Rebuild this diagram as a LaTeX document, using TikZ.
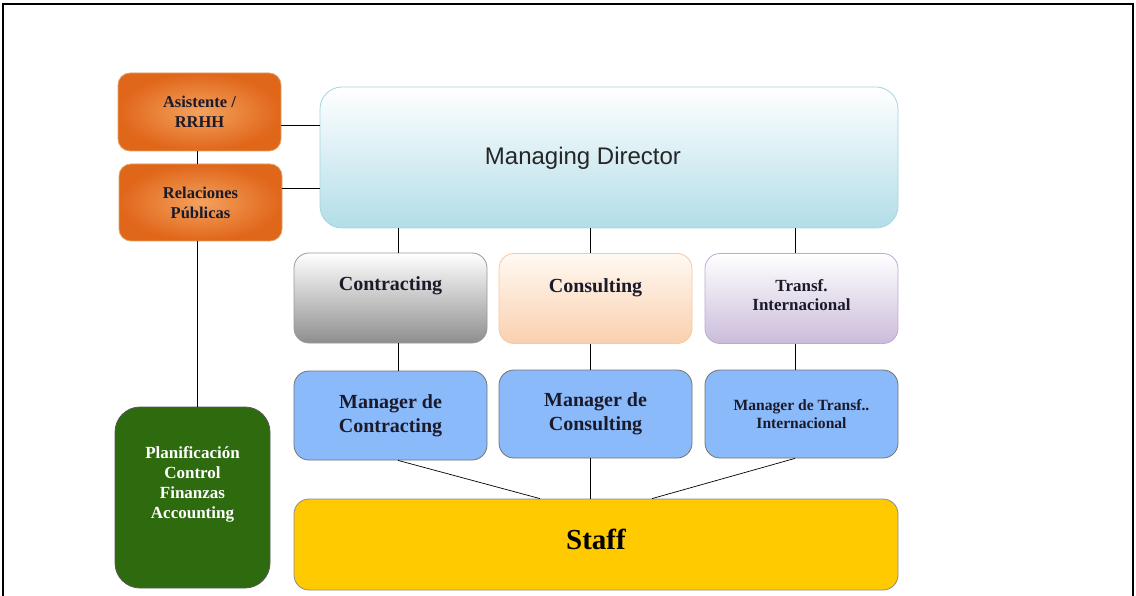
\documentclass[tikz,border=0pt]{standalone}
\usepackage{fontspec}
\setmainfont{Liberation Serif}
\newfontfamily\arialf{Liberation Sans}
\begin{document}
\begin{tikzpicture}[x=1pt,y=-1pt,
  base/.style={draw, line width=0.8pt, inner sep=0pt, align=center, font=\bfseries},
  orangebox/.style={base, rectangle, rounded corners=12pt, draw=orange!80!black!60, inner color=oInner, outer color=oOuter},
  unitbox/.style={base, rounded corners=15pt, minimum width=193pt, minimum height=90pt},
  mgrbox/.style={base, rounded corners=15pt, fill=mgrBlue, draw=gray!90!black, minimum width=193pt, minimum height=88pt},
  txt/.style={align=center, font=\bfseries, inner sep=0pt},
  link/.style={draw=black, line width=0.9pt}]
\definecolor{oInner}{HTML}{F4A25E}
\definecolor{oOuter}{HTML}{E0661A}
\definecolor{mdBot}{HTML}{B2DDE8}
\definecolor{mdBorder}{HTML}{A5D5E0}
\definecolor{grBot}{HTML}{8E8E8E}
\definecolor{csTop}{HTML}{FFF9F3}
\definecolor{csBot}{HTML}{FAD0AE}
\definecolor{csBorder}{HTML}{F8C8A0}
\definecolor{trBot}{HTML}{CBBCDA}
\definecolor{trBorder}{HTML}{BBAAD5}
\definecolor{mgrBlue}{HTML}{8BBAFA}
\definecolor{staffY}{HTML}{FFCA00}
\definecolor{greenB}{HTML}{2E6B0E}
\definecolor{txtDark}{HTML}{1A1A2A}
\useasboundingbox (0,0) rectangle (1136,596);
\fill[white] (0,0) rectangle (1136,596);
% frame
\draw[line width=2pt] (3,596) -- (3,4) -- (1133,4) -- (1133,596);

% left column
\node[orangebox, minimum width=163pt, minimum height=78pt, font=\bfseries\fontsize{16.5}{20}\selectfont, text=txtDark] (asis) at (199.5,112) {Asistente /\\RRHH};
\node[orangebox, minimum width=163pt, minimum height=77pt, font=\bfseries\fontsize{16.5}{20}\selectfont, text=txtDark] (rp) at (200.5,202.5) {Relaciones\\Públicas};
\node[base, rounded corners=25pt, fill=greenB, draw=gray!70!black, minimum width=155pt, minimum height=181pt] (plan) at (192.5,497.5) {};
\node[txt, text=white, font=\bfseries\fontsize{17}{20}\selectfont] (plant) at (192.5,484.5) {Planificación\\Control\\Finanzas\\Accounting};

% managing director
\node[base, rounded corners=22pt, top color=white, bottom color=mdBot, draw=mdBorder, minimum width=578pt, minimum height=141pt] (md) at (609,157.5) {};
\node[txt, font=\arialf\mdseries\fontsize{24}{28}\selectfont, text=black!85] (mdt) at (583,158) {Managing Director};

% units
\node[unitbox, top color=white, bottom color=grBot, draw=gray!80] (contr) at (390.5,298) {};
\node[txt, font=\bfseries\fontsize{20}{22}\selectfont, text=txtDark] (contrt) at (390.5,286) {Contracting};
\node[unitbox, top color=csTop, bottom color=csBot, draw=csBorder] (cons) at (595.5,298.5) {};
\node[txt, font=\bfseries\fontsize{20}{22}\selectfont, text=txtDark] (const) at (595.5,288) {Consulting};
\node[unitbox, top color=white, bottom color=trBot, draw=trBorder] (trans) at (801.5,298.5) {};
\node[txt, font=\bfseries\fontsize{17}{19}\selectfont, text=txtDark] (transt) at (801.5,295) {Transf.\\Internacional};

% managers
\node[mgrbox, minimum height=89pt, font=\bfseries\fontsize{20}{24}\selectfont, text=txtDark] (mcontr) at (390.5,415.5) {Manager de\\Contracting};
\node[mgrbox, font=\bfseries\fontsize{20}{24}\selectfont, text=txtDark] (mcons) at (595.5,414) {Manager de\\Consulting};
\node[mgrbox, font=\bfseries\fontsize{15.6}{18}\selectfont, text=txtDark] (mtrans) at (801.5,414) {Manager de Transf..\\Internacional};

% staff
\node[base, rounded corners=15pt, fill=staffY, draw=gray!90, minimum width=604pt, minimum height=91pt] (staff) at (596,544.5) {};
\node[txt, font=\bfseries\fontsize{29}{32}\selectfont] (stafft) at (596,539) {Staff};

% connectors
\draw[link] (asis.east |- 0,125) -- (md.west |- 0,125);
\draw[link] (rp.east |- 0,188) -- (md.west |- 0,188);
\draw[link] (asis.south -| 197,0) -- (rp.north -| 197,0);
\draw[link] (rp.south -| 197,0) -- (plan.north -| 197,0);
\draw[link] (md.south -| 398,0) -- (contr.north -| 398,0);
\draw[link] (md.south -| 590,0) -- (cons.north -| 590,0);
\draw[link] (md.south -| 795,0) -- (trans.north -| 795,0);
\draw[link] (contr.south -| 398,0) -- (mcontr.north -| 398,0);
\draw[link] (cons.south -| 590,0) -- (mcons.north -| 590,0);
\draw[link] (trans.south -| 795,0) -- (mtrans.north -| 795,0);
\draw[link, line width=0.7pt] (mcontr.south -| 398,0) -- (staff.north -| 540,0);
\draw[link] (mcons.south -| 590,0) -- (staff.north -| 590,0);
\draw[link, line width=0.7pt] (mtrans.south -| 795,0) -- (staff.north -| 652,0);
\end{tikzpicture}
\end{document}
